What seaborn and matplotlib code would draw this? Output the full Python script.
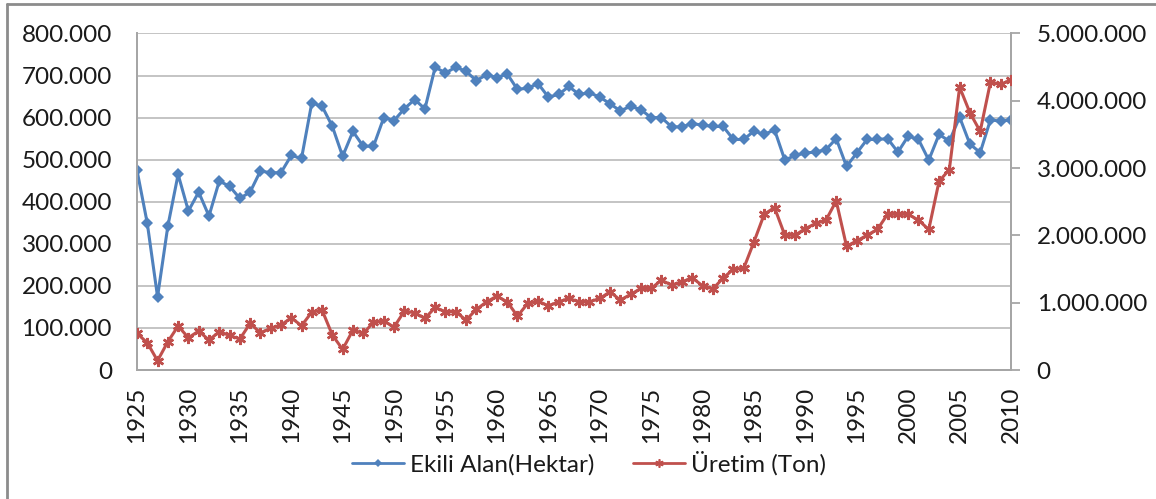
import matplotlib
matplotlib.use("Agg")
import matplotlib.pyplot as plt
from matplotlib.ticker import FuncFormatter, MultipleLocator
from matplotlib.lines import Line2D
import seaborn as sns
import pandas as pd

years = list(range(1925, 2011))

# Ekili Alan (Hektar), left axis
ekili_alan = [
    475000, 349000, 174000, 342000, 465000, 378000, 423000, 366000, 449000, 437000,
    408000, 423000, 473000, 469000, 469000, 510000, 503000, 635000, 627000, 579000,
    508000, 567000, 532000, 532000, 600000, 593000, 621000, 643000, 621000, 720000,
    706000, 720000, 710000, 688000, 702000, 695000, 704000, 667000, 670000, 681000,
    649000, 655000, 674000, 655000, 659000, 649000, 633000, 616000, 627000, 619000,
    600000, 600000, 578000, 578000, 586000, 582000, 579000, 579000, 548000, 548000,
    568000, 560000, 571000, 499000, 510000, 516000, 518000, 524000, 550000, 484000,
    516000, 548000, 548000, 550000, 518000, 556000, 548000, 499000, 560000, 544000,
    601000, 537000, 517000, 595000, 591000, 595000,
]

# Uretim (Ton), right axis
uretim = [
    544000, 405000, 138000, 420000, 653000, 480000, 579000, 445000, 569000, 514000,
    460000, 692000, 554000, 618000, 668000, 776000, 658000, 860000, 890000, 519000,
    307000, 593000, 544000, 707000, 727000, 638000, 875000, 850000, 767000, 930000,
    865000, 865000, 742000, 900000, 1013000, 1098000, 1013000, 801000, 989000, 1024000,
    954000, 1013000, 1063000, 1013000, 1013000, 1063000, 1162000, 1039000, 1123000, 1212000,
    1212000, 1335000, 1261000, 1310000, 1370000, 1251000, 1206000, 1365000, 1499000, 1509000,
    1904000, 2315000, 2414000, 2003000, 2003000, 2102000, 2177000, 2226000, 2512000, 1840000,
    1918000, 2003000, 2088000, 2315000, 2315000, 2315000, 2226000, 2088000, 2804000, 2978000,
    4203000, 3823000, 3546000, 4278000, 4243000, 4313000,
]

label_alan = "Ekili Alan(Hektar)"
label_uretim = "Üretim (Ton)"

blue = "#4F81BD"
red = "#C0504D"
grid_col = "#BFBFBF"
text_col = "#1A1A1A"
fs = 17.5

df = pd.DataFrame({"yil": years, "alan": ekili_alan, "uretim": uretim})

sns.set_style("white")
plt.rcParams["font.family"] = ["Lato", "DejaVu Sans"]
plt.rcParams["font.size"] = fs

fig = plt.figure(figsize=(11.56, 4.99), dpi=100)
ax = fig.add_axes([0.1185, 0.2585, 0.8746 - 0.1185, 0.9329 - 0.2585])
ax2 = ax.twinx()


def tr_fmt(v, pos):
    return f"{int(round(v)):,}".replace(",", ".")


sns.lineplot(data=df, x="yil", y="alan", ax=ax, color=blue, lw=2.2,
             marker="D", markersize=6, markeredgewidth=0, zorder=3)
sns.lineplot(data=df, x="yil", y="uretim", ax=ax2, color=red, lw=2.2,
             marker=(6, 2, 0), markersize=8, markeredgewidth=1.8,
             markeredgecolor=red, zorder=3)

ax.set_xlim(1925, 2010)
ax.set_ylim(0, 800000)
ax2.set_ylim(0, 5000000)
ax.yaxis.set_major_locator(MultipleLocator(100000))
ax2.yaxis.set_major_locator(MultipleLocator(1000000))
ax.yaxis.set_major_formatter(FuncFormatter(tr_fmt))
ax2.yaxis.set_major_formatter(FuncFormatter(tr_fmt))
ax.xaxis.set_major_locator(MultipleLocator(5))

ax.set_xlabel("")
ax.set_ylabel("")
ax2.set_ylabel("")

ax.grid(axis="y", color=grid_col, lw=1.3)
ax.set_axisbelow(True)
ax2.grid(False)

for a in (ax, ax2):
    for s in a.spines.values():
        s.set_color("#A6A6A6")
        s.set_linewidth(1.3)
    a.spines["top"].set_visible(False)

# pads in points (1 pt = 1.39 px at 100 dpi)
ax.tick_params(axis="y", length=0, pad=18, labelsize=fs, labelcolor=text_col)
ax.tick_params(axis="x", length=0, pad=12, labelsize=fs, labelcolor=text_col,
               labelrotation=90)
ax2.tick_params(axis="y", length=6.5, width=1.3, color="#A6A6A6", pad=12,
                labelsize=fs, labelcolor=text_col)

# outer chart frame
fig.add_artist(Line2D([7 / 1156, 7 / 1156], [0, 1 - 4 / 499],
                      transform=fig.transFigure, color="#8C8C8C", lw=2))
fig.add_artist(Line2D([7 / 1156, 1], [1 - 4 / 499, 1 - 4 / 499],
                      transform=fig.transFigure, color="#8C8C8C", lw=2))

handles = [
    Line2D([], [], color=blue, lw=2, marker="D", markersize=4, markeredgewidth=0),
    Line2D([], [], color=red, lw=2, marker=(6, 2, 0), markersize=6,
           markeredgewidth=1.2, markeredgecolor=red),
]
fig.legend(handles, [label_alan, label_uretim], loc="center",
           bbox_to_anchor=(589 / 1156, 1 - 463 / 499), ncol=2, frameon=False,
           fontsize=fs, handlelength=2.15, handletextpad=0.25, columnspacing=1.55,
           labelcolor=text_col)

fig.savefig("out.png", dpi=100)
